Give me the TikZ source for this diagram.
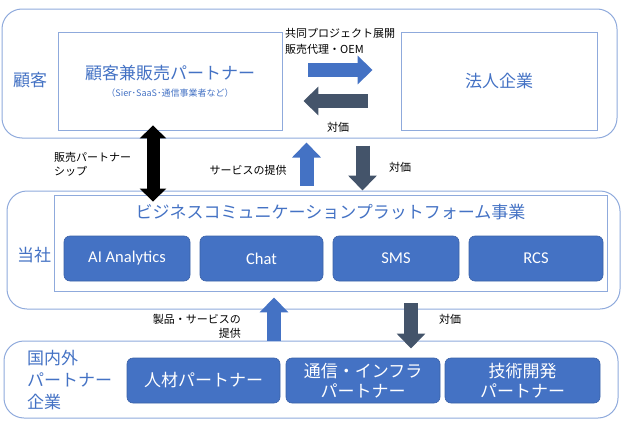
\documentclass[tikz,border=0pt]{standalone}
\usepackage{fontspec}
\setmainfont{Noto Sans CJK JP}
\newfontfamily\latfont{Carlito}
\usetikzlibrary{arrows.meta,positioning}

\definecolor{offblue}{HTML}{4472C4}
\definecolor{slate}{HTML}{44546A}
\definecolor{edgeblue}{HTML}{8FAADC}

\begin{document}
\begin{tikzpicture}[x=1pt, y=-1pt,
    zone/.style={rectangle, draw=edgeblue, line width=1pt, rounded corners=20pt, inner sep=0pt},
    panel/.style={rectangle, draw=edgeblue, line width=0.9pt, inner sep=0pt, align=center, text=offblue},
    tile/.style={rectangle, draw=offblue!85!black, line width=0.6pt, fill=offblue, rounded corners=6pt, inner sep=0pt, minimum height=45pt, text=white, align=center},
    bigtext/.style={font=\fontsize{17}{20}\selectfont},
    sidelabel/.style={font=\fontsize{17}{22}\selectfont, text=offblue, inner sep=0pt, align=left},
    note/.style={font=\fontsize{11}{15}\selectfont, inner sep=0pt},
    give/.style={line width=14pt, offblue, -{Triangle[width=28pt, length=15pt]}},
    pay/.style={line width=14pt, slate, -{Triangle[width=28pt, length=15pt]}},
    both/.style={line width=13pt, black, {Triangle[width=26pt, length=13pt]}-{Triangle[width=26pt, length=13pt]}}
]
\useasboundingbox (0,0) rectangle (627,423);

% customer zone
\node[zone, minimum width=615pt, minimum height=129pt] (cbox) at (309.5,73.5) {};
\node[sidelabel] (clabel) at (30,80) {顧客};
\node[panel, bigtext, minimum width=224pt, minimum height=98pt] (cust) at (170,81)
    {顧客兼販売パートナー\\[-3pt]{\fontsize{9}{11}\selectfont （Sier･SaaS･通信事業者など）}};
\node[panel, bigtext, minimum width=196pt, minimum height=98pt] (corp) at (499,81) {法人企業};

% our company zone
\node[zone, minimum width=613pt, minimum height=118pt] (ubox) at (313.5,250) {};
\node[sidelabel] (ulabel) at (34,255) {当社};
\node[panel, minimum width=553pt, minimum height=96pt] (plat) at (330.5,243) {};
\node[bigtext, text=offblue, inner sep=0pt] (plattitle) at ([yshift=-18pt]plat.north) {ビジネスコミュニケーションプラットフォーム事業};
\node[tile, minimum width=126pt, font=\latfont\fontsize{16.5}{18}\selectfont] (ai) at (127,258.5) {AI Analytics};
\node[tile, minimum width=123pt, font=\latfont\fontsize{16.5}{18}\selectfont] (chat) at (261.5,258.5) {Chat};
\node[tile, minimum width=126pt, font=\latfont\fontsize{16.5}{18}\selectfont] (sms) at (396,258.5) {SMS};
\node[tile, minimum width=134pt, font=\latfont\fontsize{16.5}{18}\selectfont] (rcs) at (536,258.5) {RCS};

% partner zone
\node[zone, minimum width=614pt, minimum height=77pt] (pbox) at (311,379.5) {};
\node[sidelabel, anchor=west] (plabel) at (27,380.5) {国内外\\パートナー\\企業};
\node[tile, bigtext, minimum width=153pt] (hr) at (203.5,380.5) {人材パートナー};
\node[tile, bigtext, minimum width=154pt] (infra) at (363,380.5) {通信・インフラ\\パートナー};
\node[tile, bigtext, minimum width=155pt] (dev) at (522.5,380.5) {技術開発\\パートナー};

% arrows
\draw[give, shorten <=26pt, shorten >=28pt] ([yshift=11pt]cust.east) -- ([yshift=11pt]corp.west);
\draw[pay, shorten <=33pt, shorten >=21pt] ([yshift=-20pt]corp.west) -- ([yshift=-20pt]cust.east);
\draw[both, shorten <=-5pt, shorten >=-7pt] ([xshift=-17pt]cust.south) -- ([xshift=-17pt]cust.south |- plat.north);
\draw[give, shorten <=5pt, shorten >=4pt] ([xshift=-7pt]ubox.north) -- ([xshift=-7pt]ubox.north |- cbox.south);
\draw[pay, shorten <=7pt] ([xshift=49pt]ubox.north |- cbox.south) -- ([xshift=49pt]ubox.north);
\draw[give, shorten >=6pt] ([xshift=-37pt]pbox.north) -- ([xshift=-37pt]pbox.north |- plat.south);
\draw[pay, shorten <=12pt, shorten >=-8pt] ([xshift=100pt]pbox.north |- plat.south) -- ([xshift=100pt]pbox.north);

% arrow labels
\node[note, anchor=north west, align=left, font=\fontsize{11}{16}\selectfont] (joint) at (285,28) {共同プロジェクト展開\\販売代理・OEM};
\node[note] (fee1) at (338,127) {対価};
\node[note, anchor=west, align=left, font=\fontsize{11}{14}\selectfont] (ptnr) at (54,164) {販売パートナー\\シップ};
\node[note] (svc) at (248,170) {サービスの提供};
\node[note] (fee2) at (400,167) {対価};
\node[note, anchor=east, align=right, font=\fontsize{11}{14}\selectfont] (prod) at (241,326) {製品・サービスの\\提供};
\node[note] (fee3) at (450,319) {対価};

\end{tikzpicture}
\end{document}
